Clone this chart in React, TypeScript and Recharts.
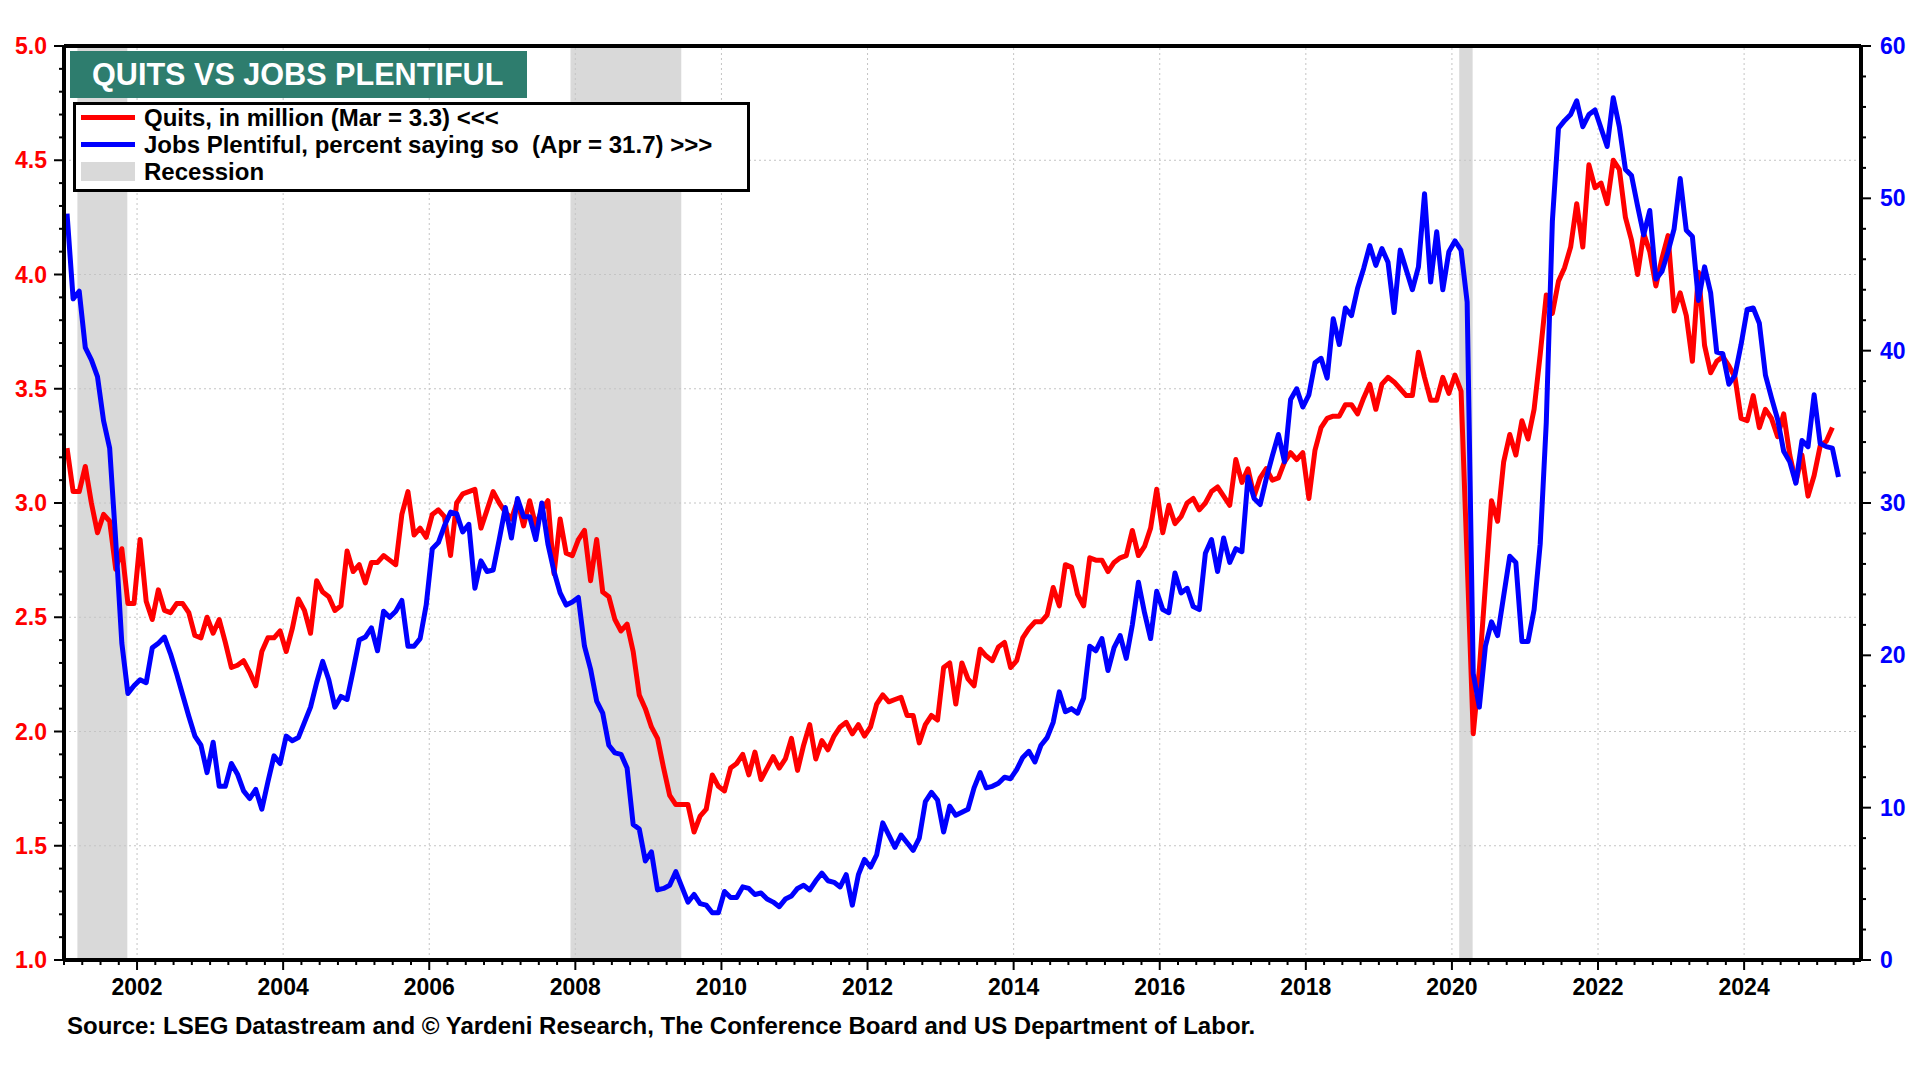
import React from "react";
import { ComposedChart, Line, XAxis, YAxis, ReferenceArea, ReferenceLine } from "recharts";

const FONT = '"Liberation Sans", Arial, Helvetica, sans-serif';
const START_YEAR = 2001;

// JOLTS quits, millions, monthly from Jan 2001 to Mar 2025
const quits = [
  3.24, 3.05, 3.05, 3.16, 3.0, 2.87, 2.95, 2.92, 2.71, 2.8, 2.56, 2.56, // 2001
  2.84, 2.57, 2.49, 2.62, 2.53, 2.52, 2.56, 2.56, 2.52, 2.42, 2.41, 2.5, // 2002
  2.43, 2.49, 2.39, 2.28, 2.29, 2.31, 2.26, 2.2, 2.35, 2.41, 2.41, 2.44, // 2003
  2.35, 2.45, 2.58, 2.53, 2.43, 2.66, 2.61, 2.59, 2.53, 2.55, 2.79, 2.7, // 2004
  2.73, 2.65, 2.74, 2.74, 2.77, 2.75, 2.73, 2.95, 3.05, 2.86, 2.89, 2.85, // 2005
  2.95, 2.97, 2.94, 2.77, 3.0, 3.04, 3.05, 3.06, 2.89, 2.97, 3.05, 3.0, // 2006
  2.96, 2.93, 3.01, 2.9, 3.01, 2.9, 2.97, 3.01, 2.69, 2.93, 2.78, 2.77, // 2007
  2.84, 2.88, 2.66, 2.84, 2.61, 2.59, 2.49, 2.44, 2.47, 2.35, 2.16, 2.1, // 2008
  2.02, 1.97, 1.84, 1.72, 1.68, 1.68, 1.68, 1.56, 1.63, 1.66, 1.81, 1.76, // 2009
  1.74, 1.84, 1.86, 1.9, 1.81, 1.91, 1.79, 1.84, 1.89, 1.84, 1.88, 1.97, // 2010
  1.83, 1.94, 2.03, 1.88, 1.96, 1.92, 1.98, 2.02, 2.04, 1.99, 2.03, 1.98, // 2011
  2.02, 2.12, 2.16, 2.13, 2.14, 2.15, 2.07, 2.07, 1.95, 2.03, 2.07, 2.05, // 2012
  2.28, 2.3, 2.12, 2.3, 2.23, 2.2, 2.36, 2.33, 2.31, 2.37, 2.39, 2.28, // 2013
  2.31, 2.41, 2.45, 2.48, 2.48, 2.51, 2.63, 2.55, 2.73, 2.72, 2.6, 2.55, // 2014
  2.76, 2.75, 2.75, 2.7, 2.74, 2.76, 2.77, 2.88, 2.77, 2.81, 2.89, 3.06, // 2015
  2.87, 2.99, 2.91, 2.94, 3.0, 3.02, 2.97, 3.0, 3.05, 3.07, 3.03, 2.99, // 2016
  3.19, 3.09, 3.15, 3.03, 3.11, 3.15, 3.1, 3.11, 3.18, 3.22, 3.19, 3.22, // 2017
  3.02, 3.23, 3.33, 3.37, 3.38, 3.38, 3.43, 3.43, 3.39, 3.46, 3.52, 3.41, // 2018
  3.52, 3.55, 3.53, 3.5, 3.47, 3.47, 3.66, 3.55, 3.45, 3.45, 3.55, 3.48, // 2019
  3.56, 3.49, 2.75, 1.99, 2.27, 2.64, 3.01, 2.92, 3.18, 3.3, 3.21, 3.36, // 2020
  3.28, 3.41, 3.65, 3.91, 3.83, 3.97, 4.03, 4.12, 4.31, 4.12, 4.48, 4.38, // 2021
  4.4, 4.31, 4.5, 4.46, 4.25, 4.15, 4.0, 4.18, 4.1, 3.95, 4.07, 4.17, // 2022
  3.84, 3.92, 3.82, 3.62, 4.01, 3.69, 3.57, 3.62, 3.64, 3.6, 3.55, 3.37, // 2023
  3.36, 3.47, 3.33, 3.41, 3.37, 3.29, 3.39, 3.21, 3.09, 3.21, 3.03, 3.12, // 2024
  3.25, 3.27, 3.33, // 2025
];

// Conference Board, jobs plentiful (% saying so), monthly from Jan 2001 to Apr 2025
const jobsPlentiful = [
  49.0, 43.4, 43.9, 40.2, 39.4, 38.3, 35.4, 33.6, 27.5, 20.8, 17.5, 18.0, // 2001
  18.4, 18.2, 20.5, 20.8, 21.2, 20.1, 18.8, 17.4, 16.0, 14.7, 14.1, 12.3, // 2002
  14.3, 11.4, 11.4, 12.9, 12.2, 11.1, 10.6, 11.2, 9.9, 11.7, 13.4, 12.9, // 2003
  14.7, 14.4, 14.6, 15.6, 16.6, 18.2, 19.6, 18.4, 16.6, 17.3, 17.1, 19.0, // 2004
  21.0, 21.2, 21.8, 20.3, 22.9, 22.5, 22.9, 23.6, 20.6, 20.6, 21.1, 23.3, // 2005
  27.0, 27.4, 28.5, 29.4, 29.3, 28.1, 28.6, 24.4, 26.2, 25.5, 25.6, 27.6, // 2006
  29.7, 27.7, 30.3, 29.1, 29.1, 27.6, 30.0, 27.3, 25.5, 24.1, 23.3, 23.5, // 2007
  23.8, 20.6, 19.1, 17.0, 16.2, 14.1, 13.6, 13.5, 12.6, 8.9, 8.6, 6.5, // 2008
  7.1, 4.6, 4.7, 4.9, 5.8, 4.8, 3.8, 4.3, 3.7, 3.6, 3.1, 3.1, // 2009
  4.5, 4.1, 4.1, 4.8, 4.7, 4.3, 4.4, 4.0, 3.8, 3.5, 4.0, 4.2, // 2010
  4.7, 4.9, 4.6, 5.2, 5.7, 5.2, 5.1, 4.8, 5.6, 3.6, 5.6, 6.6, // 2011
  6.1, 6.9, 9.0, 8.2, 7.4, 8.2, 7.7, 7.2, 8.0, 10.4, 11.0, 10.5, // 2012
  8.4, 10.1, 9.5, 9.7, 9.9, 11.3, 12.3, 11.3, 11.4, 11.6, 12.0, 11.9, // 2013
  12.5, 13.3, 13.7, 13.0, 14.1, 14.6, 15.6, 17.6, 16.3, 16.5, 16.2, 17.2, // 2014
  20.6, 20.3, 21.1, 19.0, 20.5, 21.3, 19.8, 22.0, 24.8, 22.8, 21.1, 24.2, // 2015
  23.0, 22.8, 25.4, 24.1, 24.4, 23.2, 23.0, 26.7, 27.6, 25.5, 27.7, 26.1, // 2016
  27.0, 26.8, 31.7, 30.3, 29.9, 31.6, 33.1, 34.5, 32.7, 36.8, 37.5, 36.3, // 2017
  37.1, 39.2, 39.5, 38.2, 42.1, 40.4, 42.8, 42.3, 44.1, 45.4, 46.9, 45.6, // 2018
  46.7, 45.8, 42.5, 46.6, 45.3, 44.0, 45.5, 50.3, 44.5, 47.8, 44.0, 46.5, // 2019
  47.2, 46.6, 43.2, 18.8, 16.6, 20.6, 22.2, 21.3, 23.9, 26.5, 26.1, 20.9, // 2020
  20.9, 23.0, 27.3, 35.3, 48.5, 54.6, 55.1, 55.5, 56.4, 54.7, 55.5, 55.8, // 2021
  54.6, 53.4, 56.6, 54.7, 51.9, 51.5, 49.5, 47.6, 49.2, 44.7, 45.2, 46.5, // 2022
  48.0, 51.3, 47.9, 47.5, 43.3, 45.5, 43.8, 39.9, 39.8, 37.8, 38.4, 40.4, // 2023
  42.7, 42.8, 41.8, 38.4, 36.9, 35.5, 33.4, 32.7, 31.3, 34.1, 33.7, 37.1, // 2024
  33.9, 33.7, 33.6, 31.7, // 2025
];

const recessions = [
  { start: "2001-03", end: "2001-11" },
  { start: "2007-12", end: "2009-06" },
  { start: "2020-02", end: "2020-04" },
];

const yearLabels = [2002, 2004, 2006, 2008, 2010, 2012, 2014, 2016, 2018, 2020, 2022, 2024];
const leftLabels = [1.0, 1.5, 2.0, 2.5, 3.0, 3.5, 4.0, 4.5, 5.0];
const rightLabels = [0, 10, 20, 30, 40, 50, 60];

const monthIndex = (ym: string) => {
  const [y, m] = ym.split("-").map(Number);
  return (y - START_YEAR) * 12 + (m - 1);
};
const yearPos = (y: number) => (y - START_YEAR) * 12;

// one row per month, plotted at mid-month
const data = jobsPlentiful.map((jobs, i) => ({
  t: i + 0.5,
  jobs,
  quits: i < quits.length ? quits[i] : null,
}));

const xTicks = Array.from({ length: 99 }, (_, k) => k * 3);
const leftTicks = Array.from({ length: 41 }, (_, k) => (10 + k) / 10);
const rightTicks = Array.from({ length: 31 }, (_, k) => k * 2);

const RED = "#ff0000";
const BLUE = "#0000ff";
const GRID = "#c4c4c4";

const renderBottomTick = (props: any) => {
  const { x, y, payload } = props;
  const t = payload.value;
  const year = START_YEAR + t / 12;
  const labeled = yearLabels.includes(year);
  return (
    <g>
      <line x1={x} x2={x} y1={y} y2={y + (labeled ? 10 : 5)} stroke="#000" strokeWidth={2} />
      {labeled && (
        <text x={x} y={y + 35} textAnchor="middle" fontFamily={FONT} fontWeight="bold" fontSize={23} fill="#000">
          {year}
        </text>
      )}
    </g>
  );
};

const renderLeftTick = (props: any) => {
  const { x, y, payload } = props;
  const v = payload.value;
  const major = leftLabels.some((l) => Math.abs(l - v) < 1e-6);
  return (
    <g>
      <line x1={x} x2={x - (major ? 10 : 5)} y1={y} y2={y} stroke="#000" strokeWidth={2} />
      {major && (
        <text x={x - 17} y={y + 8} textAnchor="end" fontFamily={FONT} fontWeight="bold" fontSize={23} fill={RED}>
          {v.toFixed(1)}
        </text>
      )}
    </g>
  );
};

const renderRightTick = (props: any) => {
  const { x, y, payload } = props;
  const v = payload.value;
  const major = rightLabels.includes(v);
  return (
    <g>
      <line x1={x} x2={x + (major ? 10 : 5)} y1={y} y2={y} stroke="#000" strokeWidth={2} />
      {major && (
        <text x={x + 19} y={y + 8} textAnchor="start" fontFamily={FONT} fontWeight="bold" fontSize={23} fill={BLUE}>
          {v}
        </text>
      )}
    </g>
  );
};

function LegendBox() {
  const row = (top: number, swatch: React.ReactNode, label: string) => (
    <div style={{ position: "absolute", left: 0, top, height: 27, width: "100%" }}>
      {swatch}
      <span
        style={{
          position: "absolute",
          left: 68,
          top: 0,
          lineHeight: "27px",
          fontSize: 24,
          fontWeight: "bold",
          whiteSpace: "pre",
        }}
      >
        {label}
      </span>
    </div>
  );
  const lineSwatch = (color: string) => (
    <div style={{ position: "absolute", left: 5, top: 11, width: 54, height: 5, background: color }} />
  );
  return (
    <div
      style={{
        position: "absolute",
        left: 73,
        top: 102,
        width: 677,
        height: 90,
        boxSizing: "border-box",
        border: "3px solid #000",
        background: "#fff",
        fontFamily: FONT,
        color: "#000",
      }}
    >
      {row(-1, lineSwatch(RED), "Quits, in million (Mar = 3.3) <<<")}
      {row(26, lineSwatch(BLUE), "Jobs Plentiful, percent saying so  (Apr = 31.7) >>>")}
      {row(53, <div style={{ position: "absolute", left: 5, top: 4, width: 54, height: 19, background: "#d9d9d9" }} />, "Recession")}
    </div>
  );
}

export default function App() {
  return (
    <div style={{ position: "absolute", left: 0, top: 0, width: 1920, height: 1080, background: "#fff", fontFamily: FONT }}>
      <ComposedChart width={1920} height={1080} data={data} margin={{ top: 46, right: 19, bottom: 90, left: 24 }}>
        <XAxis
          dataKey="t"
          type="number"
          domain={[0, 295.2]}
          allowDataOverflow
          ticks={xTicks}
          interval={0}
          tick={renderBottomTick}
          tickLine={false}
          tickSize={0}
          tickMargin={0}
          height={30}
          axisLine={{ stroke: "#000", strokeWidth: 4 }}
        />
        <YAxis
          yAxisId="left"
          orientation="left"
          type="number"
          domain={[1, 5]}
          allowDataOverflow
          ticks={leftTicks}
          interval={0}
          tick={renderLeftTick}
          tickLine={false}
          tickSize={0}
          tickMargin={0}
          width={40}
          axisLine={{ stroke: "#000", strokeWidth: 4 }}
        />
        <YAxis
          yAxisId="right"
          orientation="right"
          type="number"
          domain={[0, 60]}
          allowDataOverflow
          ticks={rightTicks}
          interval={0}
          tick={renderRightTick}
          tickLine={false}
          tickSize={0}
          tickMargin={0}
          width={40}
          axisLine={{ stroke: "#000", strokeWidth: 4 }}
        />

        {recessions.map((r) => (
          <ReferenceArea
            key={r.start}
            yAxisId="left"
            x1={monthIndex(r.start) + 0.2}
            x2={monthIndex(r.end) + 0.4}
            fill="#d9d9d9"
            fillOpacity={1}
            stroke="none"
          />
        ))}

        {yearLabels.map((y) => (
          <ReferenceLine key={y} yAxisId="left" x={yearPos(y)} stroke={GRID} strokeWidth={1} strokeDasharray="2 3" />
        ))}
        {leftLabels.slice(1, -1).map((v) => (
          <ReferenceLine key={v} yAxisId="left" y={v} stroke={GRID} strokeWidth={1} strokeDasharray="2 3" />
        ))}

        <Line
          yAxisId="left"
          dataKey="quits"
          type="linear"
          stroke={RED}
          strokeWidth={5}
          strokeLinejoin="round"
          dot={false}
          activeDot={false}
          connectNulls={false}
          isAnimationActive={false}
        />
        <Line
          yAxisId="right"
          dataKey="jobs"
          type="linear"
          stroke={BLUE}
          strokeWidth={5}
          strokeLinejoin="round"
          dot={false}
          activeDot={false}
          isAnimationActive={false}
        />

        <ReferenceLine yAxisId="left" y={5} stroke="#000" strokeWidth={4} />
      </ComposedChart>

      <div
        style={{
          position: "absolute",
          left: 70,
          top: 51,
          width: 457,
          height: 47,
          boxSizing: "border-box",
          paddingLeft: 22,
          background: "#2e7d6e",
          color: "#fff",
          fontSize: 30.6,
          fontWeight: "bold",
          lineHeight: "47px",
          whiteSpace: "nowrap",
        }}
      >
        QUITS VS JOBS PLENTIFUL
      </div>

      <LegendBox />

      <div
        style={{
          position: "absolute",
          left: 67,
          top: 1012,
          fontSize: 24,
          fontWeight: "bold",
          lineHeight: "28px",
          color: "#000",
          whiteSpace: "nowrap",
        }}
      >
        Source: LSEG Datastream and © Yardeni Research, The Conference Board and US Department of Labor.
      </div>
    </div>
  );
}
